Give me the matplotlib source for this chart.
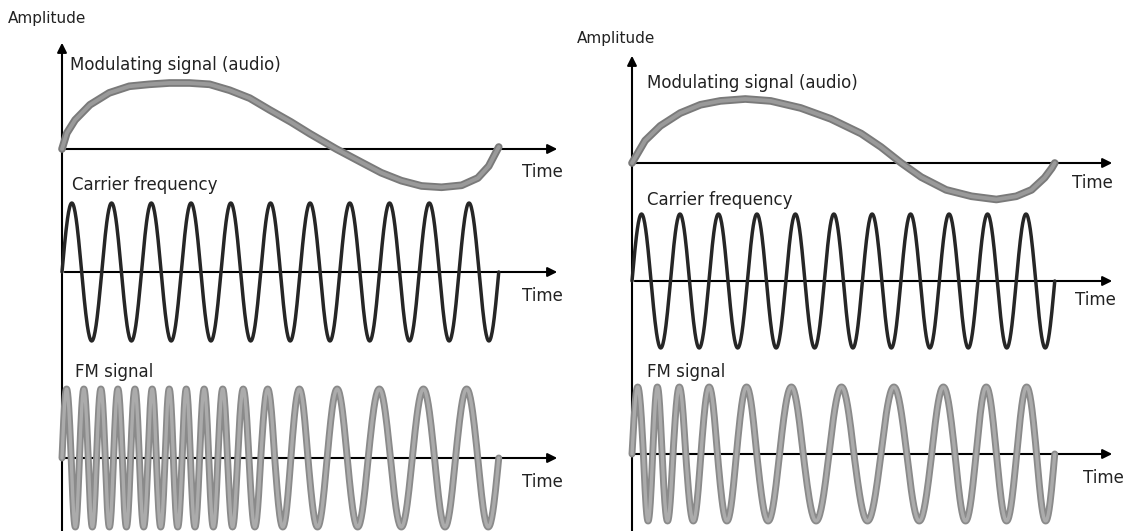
import numpy as np
import matplotlib
matplotlib.use("Agg")
import matplotlib.pyplot as plt

# time is in % of the drawn span, amplitude in units of each wave's peak
left_mod_t = [0, 1.1, 3.0, 6.4, 10.8, 15.4, 20.0, 24.6, 29.2, 33.8, 38.4, 43.0, 47.6,
              52.4, 56.8, 62.8, 68.5, 73.1, 77.7, 82.3, 86.9, 91.5, 95.2, 97.7, 100]
left_mod_a = [0, 0.24, 0.44, 0.67, 0.85, 0.95, 0.98, 1.0, 1.0, 0.98, 0.89, 0.77, 0.59,
              0.41, 0.23, 0, -0.20, -0.36, -0.48, -0.56, -0.58, -0.55, -0.44, -0.26, 0.03]

right_mod_t = [0, 3.1, 6.7, 11.4, 16.2, 20.9, 26.8, 32.8, 39.9, 47.0, 54.2, 58.9, 63.7,
               68.4, 74.3, 80.3, 86.2, 90.9, 94.5, 97.6, 99.3, 100]
right_mod_a = [0, 0.35, 0.58, 0.78, 0.91, 0.97, 1.0, 0.97, 0.86, 0.69, 0.46, 0.25, 0,
               -0.22, -0.42, -0.52, -0.57, -0.52, -0.42, -0.23, -0.08, 0]

# zero crossings of the waves (each gap is one half cycle, first one positive)
carrier_zeros = [0, 4.5, 9.1, 13.6, 18.2, 22.7, 27.3, 31.8, 36.4, 40.9, 45.5, 50.0,
                 54.5, 59.1, 63.6, 68.2, 72.7, 77.3, 81.8, 86.4, 90.9, 95.5, 100]

left_fm_zeros = [0, 2.1, 4.0, 6.0, 7.9, 9.9, 11.8, 13.8, 15.7, 17.7, 19.7, 21.6, 23.6,
                 25.5, 27.5, 29.4, 31.5, 33.6, 35.7, 37.9, 40.2, 42.8, 45.5, 48.7, 52.4,
                 56.3, 60.7, 65.3, 70.1, 75.2, 80.2, 85.3, 90.1, 95.2, 100]

right_fm_zeros = [0, 2.7, 4.9, 7.1, 9.7, 12.7, 16.3, 20.2, 24.7, 29.5, 34.9, 40.5, 46.6,
                  52.5, 58.9, 65.0, 70.9, 76.4, 81.4, 86.2, 91.0, 95.7, 100]

labels = ["Modulating signal (audio)", "Carrier frequency", "FM signal"]

W, H = 1132, 531
fig = plt.figure(figsize=(W / 100, H / 100), dpi=100)
fs = 12


def px_axes(x0, y0, x1, y1):
    ax = fig.add_axes([x0 / W, 1 - y1 / H, (x1 - x0) / W, (y1 - y0) / H])
    ax.axis("off")
    return ax


def lobes(zeros):
    ts, ys = [], []
    s = np.linspace(0, 1, 40)
    for i in range(len(zeros) - 1):
        sign = 1 if i % 2 == 0 else -1
        ts.append(zeros[i] + s * (zeros[i + 1] - zeros[i]))
        ys.append(sign * np.sin(np.pi * s))
    return np.concatenate(ts), np.concatenate(ys)


def panel(x0, end_x, arrow_x, top_y, amp_xy, rows, mod, carrier, fm):
    # vertical amplitude axis
    av = px_axes(x0 - 10, top_y, x0 + 10, H)
    av.set_xlim(-1, 1)
    av.set_ylim(0, 1)
    av.annotate("", xy=(0, 1), xytext=(0, -0.01),
                arrowprops=dict(arrowstyle="-|>", color="black", lw=1.5, mutation_scale=14))
    fig.text(amp_xy[0] / W, 1 - amp_xy[1] / H, "Amplitude", fontsize=fs - 1,
             va="center", ha="left", color="#222222")

    tmax = 100 * (arrow_x - x0) / (end_x - x0)
    # (t, a, [(colour, width), ...]) - gray waves get a slightly darker rim
    waves = [
        (mod[0], mod[1], [("#7a7a7a", 5.5), ("#9a9a9a", 2.8)]),
        (*lobes(carrier), [("#262626", 2.5)]),
        (*lobes(fm), [("#8a8a8a", 5.0), ("#ababab", 2.4)]),
    ]
    for (cy, unit, lab_xy, time_xy), (t, a, strokes), lab in zip(rows, waves, labels):
        ax = px_axes(x0, cy - 1.2 * unit, arrow_x + 2, cy + 1.2 * unit)
        ax.set_xlim(0, tmax)
        ax.set_ylim(-1.2, 1.2)
        for k, (col, lw) in enumerate(strokes):
            ax.plot(t, a, color=col, lw=lw, solid_capstyle="round", clip_on=False,
                    zorder=3 + k)
        ax.annotate("", xy=(tmax, 0), xytext=(0, 0),
                    arrowprops=dict(arrowstyle="-|>", color="black", lw=1.5,
                                    mutation_scale=14), zorder=2)
        fig.text(lab_xy[0] / W, 1 - lab_xy[1] / H, lab, fontsize=fs,
                 va="center", ha="left", color="#222222")
        fig.text(time_xy[0] / W, 1 - time_xy[1] / H, "Time", fontsize=fs,
                 va="center", ha="left", color="#222222")


# left panel
panel(62, 497, 558, 40, (8, 18),
      [(149, 66, (70, 65), (522, 172)),
       (272, 69, (72, 185), (522, 296)),
       (458, 69, (75, 372), (522, 482))],
      (left_mod_t, left_mod_a), carrier_zeros, left_fm_zeros)

# right panel
panel(632, 1053, 1113, 53, (577, 38),
      [(163, 64, (647, 83), (1072, 183)),
       (281, 67, (647, 200), (1075, 300)),
       (454, 67, (647, 372), (1083, 478))],
      (right_mod_t, right_mod_a), carrier_zeros, right_fm_zeros)

fig.savefig("out.png", dpi=100)
